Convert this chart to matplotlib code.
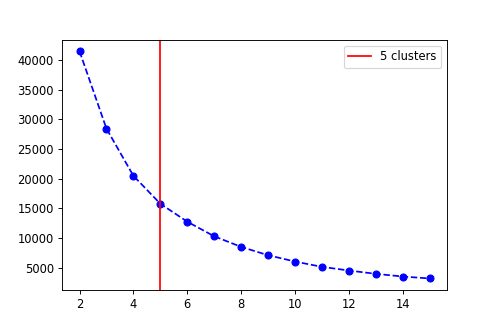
import matplotlib
matplotlib.use("Agg")
import matplotlib.pyplot as plt

# number of clusters vs. inertia (elbow plot)
k_values = list(range(2, 16))
inertia = [41500, 28460, 20510, 15800, 12780, 10320, 8530, 7130,
           6060, 5170, 4550, 3990, 3540, 3210]
best_k = 5

fig = plt.figure(figsize=(6, 4), dpi=83)
plt.subplots_adjust(left=0.1245, right=0.898, top=0.88, bottom=0.127)

plt.plot(k_values, inertia, 'bo--')
plt.axvline(x=best_k, color='red', label=str(best_k) + " clusters")

plt.legend()
plt.savefig("out.png", dpi=83)
